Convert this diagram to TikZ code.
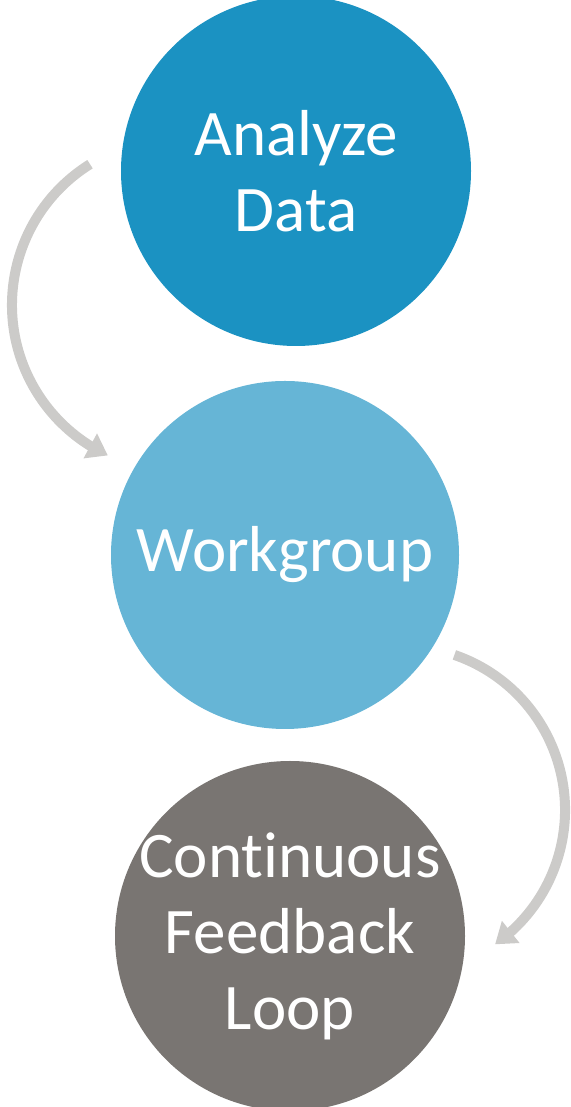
\documentclass[tikz,border=0pt]{standalone}
\usepackage{fontspec}
\setmainfont{Carlito}[Ligatures={NoCommon,NoRequired,NoContextual}]
\usetikzlibrary{arrows.meta,bending}
\definecolor{cTop}{RGB}{27,146,194}
\definecolor{cMid}{RGB}{102,181,214}
\definecolor{cBot}{RGB}{121,117,114}
\definecolor{cArr}{RGB}{204,203,201}
\begin{document}
\begin{tikzpicture}[x=1pt,y=1pt,
  bubble/.style={circle,minimum size=350pt,inner sep=0pt},
  bubbletext/.style={text=white,align=center,inner sep=0pt,font=\fontsize{65}{76}\selectfont},
  curvearrow/.style={draw=cArr,line width=10pt,-{Triangle[length=20pt,width=27pt,flex]}}]
\useasboundingbox (0,0) rectangle (570,1107);
\node[bubble,fill=cTop,label={[bubbletext]center:Analyze\\Data}] (analyze) at (296,936) {};
\node[bubble,fill=cMid,minimum size=348pt,label={[bubbletext]center:Workgroup}] (work) at (285,552) {};
\node[bubble,fill=cBot,minimum size=350pt,label={[bubbletext]center:Continuous\\Feedback\\Loop}] (loop) at (290,171) {};
\coordinate (c1) at (178,802);
\coordinate (c2) at (401,297);
\draw[curvearrow] ([shift={(122:166)}]c1) arc[start angle=122,end angle=245,radius=166];
\draw[curvearrow] ([shift={(71:164)}]c2) arc[start angle=71,end angle=-55,radius=164];
\end{tikzpicture}
\end{document}
